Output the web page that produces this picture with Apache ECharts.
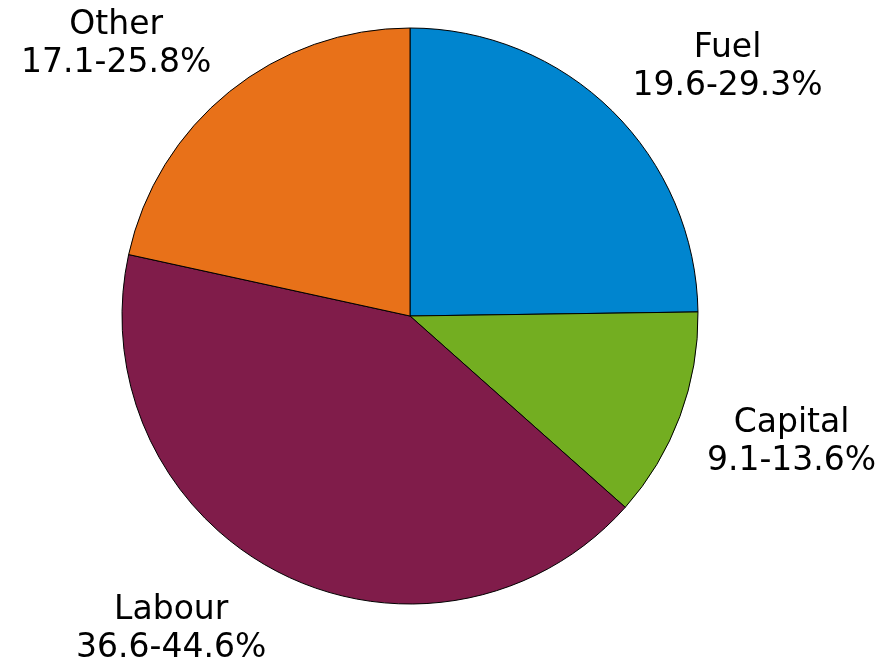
<!DOCTYPE html>
<html>
<head>
<meta charset="utf-8">
<script src="https://cdn.jsdelivr.net/npm/echarts@6/dist/echarts.min.js"></script>
<style>
  html, body { margin: 0; padding: 0; background: #fff; }
  #main { width: 879px; height: 661px; }
</style>
</head>
<body>
<div id="main"></div>
<script>
var names = ['Fuel', 'Capital', 'Labour', 'Other'];
var ranges = ['19.6-29.3%', '9.1-13.6%', '36.6-44.6%', '17.1-25.8%'];
var shares = [24.8, 11.8, 41.9, 21.6];
var colors = ['#0085cf', '#73ae21', '#801c4a', '#e87119'];

var cx = 410, cy = 316, R = 288;
var fontSize = 33, lineH = 38;

var total = shares.reduce(function (a, b) { return a + b; }, 0);
var midAngles = [];
var acc = 0;
shares.forEach(function (v) {
  midAngles.push((acc + v / 2) / total * 2 * Math.PI);
  acc += v;
});

var myChart = echarts.init(document.getElementById('main'));
var option = {
  backgroundColor: '#fff',
  animation: false,
  series: [{
    type: 'pie',
    center: [cx, cy],
    radius: [0, R],
    startAngle: 90,
    clockwise: true,
    itemStyle: { borderColor: '#000', borderWidth: 1 },
    label: {
      show: true,
      position: 'outside',
      color: '#000',
      fontFamily: 'DejaVu Sans',
      fontSize: fontSize,
      lineHeight: lineH,
      align: 'center',
      overflow: 'none',
      formatter: function (p) { return p.name + '\n' + ranges[p.dataIndex]; }
    },
    labelLine: { show: false },
    labelLayout: function (p) {
      var a = midAngles[p.dataIndex];
      var s = Math.sin(a), c = Math.cos(a);
      // anchor at 1.1 R along the slice middle
      var px = cx + R * 1.1 * s;
      var py = cy - R * 1.1 * c;
      var w = p.labelRect.width, h = p.labelRect.height;
      var f = Math.max(0, Math.min(1, 0.5 + 0.65 * c));
      var inner = h - 20;
      return {
        x: px + (s > 0 ? 1 : -1) * w / 2,
        y: py - f * inner - 7,
        align: 'center',
        verticalAlign: 'top'
      };
    },
    emphasis: { disabled: true },
    data: names.map(function (n, i) {
      return { name: n, value: shares[i], itemStyle: { color: colors[i] } };
    })
  }]
};
myChart.setOption(option);
</script>
</body>
</html>
